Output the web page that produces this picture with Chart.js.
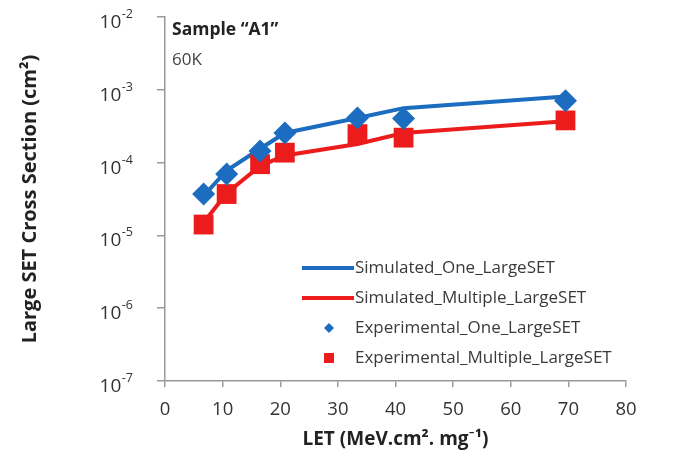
<!DOCTYPE html>
<html lang="en">
<head>
<meta charset="UTF-8">
<title>Large SET Cross Section</title>
<script src="https://cdn.jsdelivr.net/npm/chart.js"></script>
<style>
  html, body { margin: 0; padding: 0; background: #fff; }
</style>
</head>
<body>
<canvas id="grafico" width="675" height="461"></canvas>
<script>
// LET values (MeV.cm2/mg)
const letValues = [6.7, 10.7, 16.5, 20.8, 33.4, 41.4, 69.5];
// cross sections (cm2)
const simOne = [3.5e-5, 7.8e-5, 1.55e-4, 2.55e-4, 4.1e-4, 5.6e-4, 8.1e-4];
const simMultiple = [1.5e-5, 3.8e-5, 9.0e-5, 1.25e-4, 1.8e-4, 2.55e-4, 3.7e-4];
const expOne = [3.7e-5, 7.0e-5, 1.44e-4, 2.56e-4, 4.1e-4, 4.05e-4, 7.1e-4];
const expMultiple = [1.41e-5, 3.7e-5, 9.5e-5, 1.37e-4, 2.46e-4, 2.2e-4, 3.8e-4];
const xTicks = [0, 10, 20, 30, 40, 50, 60, 70, 80];
const yTicks = [1e-7, 1e-6, 1e-5, 1e-4, 1e-3, 1e-2];
const yTickExps = ['-7', '-6', '-5', '-4', '-3', '-2'];

const azul = '#1c6cbf';
const vermelho = '#ec1c1c';
const fonte = '"Open Sans", Lato, sans-serif';

function pontos(ys) {
  return letValues.map((x, i) => ({ x: x, y: ys[i] }));
}

const legenda = [
  { label: 'Simulated_One_LargeSET', tipo: 'line', cor: azul },
  { label: 'Simulated_Multiple_LargeSET', tipo: 'line', cor: vermelho },
  { label: 'Experimental_One_LargeSET', tipo: 'rectRot', cor: azul },
  { label: 'Experimental_Multiple_LargeSET', tipo: 'rect', cor: vermelho }
];

const textosPlugin = {
  id: 'textos',
  afterDraw(chart) {
    const ctx = chart.ctx;
    const area = chart.chartArea;
    const yScale = chart.scales.y;
    ctx.save();

    // rotulos do eixo y: 10 com expoente
    ctx.textBaseline = 'alphabetic';
    ctx.fillStyle = '#333';
    yTicks.forEach((v, i) => {
      const py = yScale.getPixelForValue(v);
      ctx.font = '12.5px ' + fonte;
      const wExp = ctx.measureText(yTickExps[i]).width;
      const xDir = area.left - 32;
      ctx.textAlign = 'right';
      ctx.fillText(yTickExps[i], xDir, py + 1);
      ctx.font = '19px ' + fonte;
      ctx.fillText('10', xDir - wExp - 0.5, py + 11);
    });

    ctx.textBaseline = 'middle';
    ctx.textAlign = 'left';
    ctx.fillStyle = '#222';
    ctx.font = 'bold 17.5px ' + fonte;
    ctx.fillText('Sample “A1”', area.left + 7, area.top + 13);
    ctx.font = '17px ' + fonte;
    ctx.fillStyle = '#444';
    ctx.fillText('60K', area.left + 7, area.top + 43);

    // legenda
    const x0 = area.left + 137;
    let y = area.top + 251;
    ctx.font = '17px ' + fonte;
    legenda.forEach(item => {
      if (item.tipo === 'line') {
        ctx.strokeStyle = item.cor;
        ctx.lineWidth = 4;
        ctx.beginPath();
        ctx.moveTo(x0, y);
        ctx.lineTo(x0 + 52, y);
        ctx.stroke();
      } else {
        ctx.fillStyle = item.cor;
        ctx.beginPath();
        if (item.tipo === 'rectRot') {
          ctx.moveTo(x0 + 27, y - 5);
          ctx.lineTo(x0 + 32, y);
          ctx.lineTo(x0 + 27, y + 5);
          ctx.lineTo(x0 + 22, y);
          ctx.closePath();
          ctx.fill();
        } else {
          ctx.fillRect(x0 + 22, y - 5, 10, 10);
        }
      }
      ctx.fillStyle = '#3a3a3a';
      ctx.fillText(item.label, x0 + 53, y);
      y += 30;
    });
    ctx.restore();
  }
};

const grafico = new Chart(document.getElementById('grafico'), {
  type: 'scatter',
  data: {
    datasets: [
      {
        label: 'Experimental_One_LargeSET',
        data: pontos(expOne),
        pointStyle: 'rectRot',
        pointRadius: 11.5,
        backgroundColor: azul,
        borderColor: azul,
        borderWidth: 0,
        order: 0
      },
      {
        label: 'Experimental_Multiple_LargeSET',
        data: pontos(expMultiple),
        pointStyle: 'rect',
        pointRadius: 14,
        backgroundColor: vermelho,
        borderColor: vermelho,
        borderWidth: 0,
        order: 1
      },
      {
        label: 'Simulated_One_LargeSET',
        data: pontos(simOne),
        showLine: true,
        pointRadius: 0,
        borderColor: azul,
        borderWidth: 4,
        order: 2
      },
      {
        label: 'Simulated_Multiple_LargeSET',
        data: pontos(simMultiple),
        showLine: true,
        pointRadius: 0,
        borderColor: vermelho,
        borderWidth: 4,
        order: 3
      }
    ]
  },
  options: {
    responsive: false,
    animation: false,
    devicePixelRatio: 1,
    layout: { padding: { top: 17, right: 49, left: 0, bottom: 0 } },
    plugins: {
      legend: { display: false },
      tooltip: { enabled: false }
    },
    scales: {
      x: {
        type: 'linear',
        min: 0,
        max: 80,
        afterBuildTicks(scale) {
          scale.ticks = xTicks.map(v => ({ value: v }));
        },
        afterFit(scale) { scale.height = 80; },
        border: { display: true, color: '#999', width: 1.5 },
        grid: { display: true, drawOnChartArea: false, drawTicks: true, tickLength: 6, color: '#999', lineWidth: 1.5 },
        ticks: {
          color: '#333',
          font: { family: fonte, size: 18.5 },
          padding: 12,
          maxRotation: 0
        },
        title: {
          display: true,
          text: 'LET (MeV.cm². mg⁻¹)',
          color: '#222',
          font: { family: fonte, size: 19, weight: 'bold' },
          padding: { top: 0, bottom: 10 }
        }
      },
      y: {
        type: 'logarithmic',
        min: 1e-7,
        max: 1e-2,
        afterBuildTicks(scale) {
          scale.ticks = yTicks.map(v => ({ value: v }));
        },
        afterFit(scale) { scale.width = 165; },
        border: { display: true, color: '#999', width: 1.5 },
        grid: { display: true, drawOnChartArea: false, drawTicks: true, tickLength: 8, color: '#999', lineWidth: 1.5 },
        ticks: { display: false },
        title: {
          display: true,
          text: 'Large SET Cross Section (cm²)',
          color: '#222',
          font: { family: fonte, size: 20, weight: 'bold' },
          padding: { top: 18, bottom: 0 }
        }
      }
    }
  },
  plugins: [textosPlugin]
});
</script>
</body>
</html>
